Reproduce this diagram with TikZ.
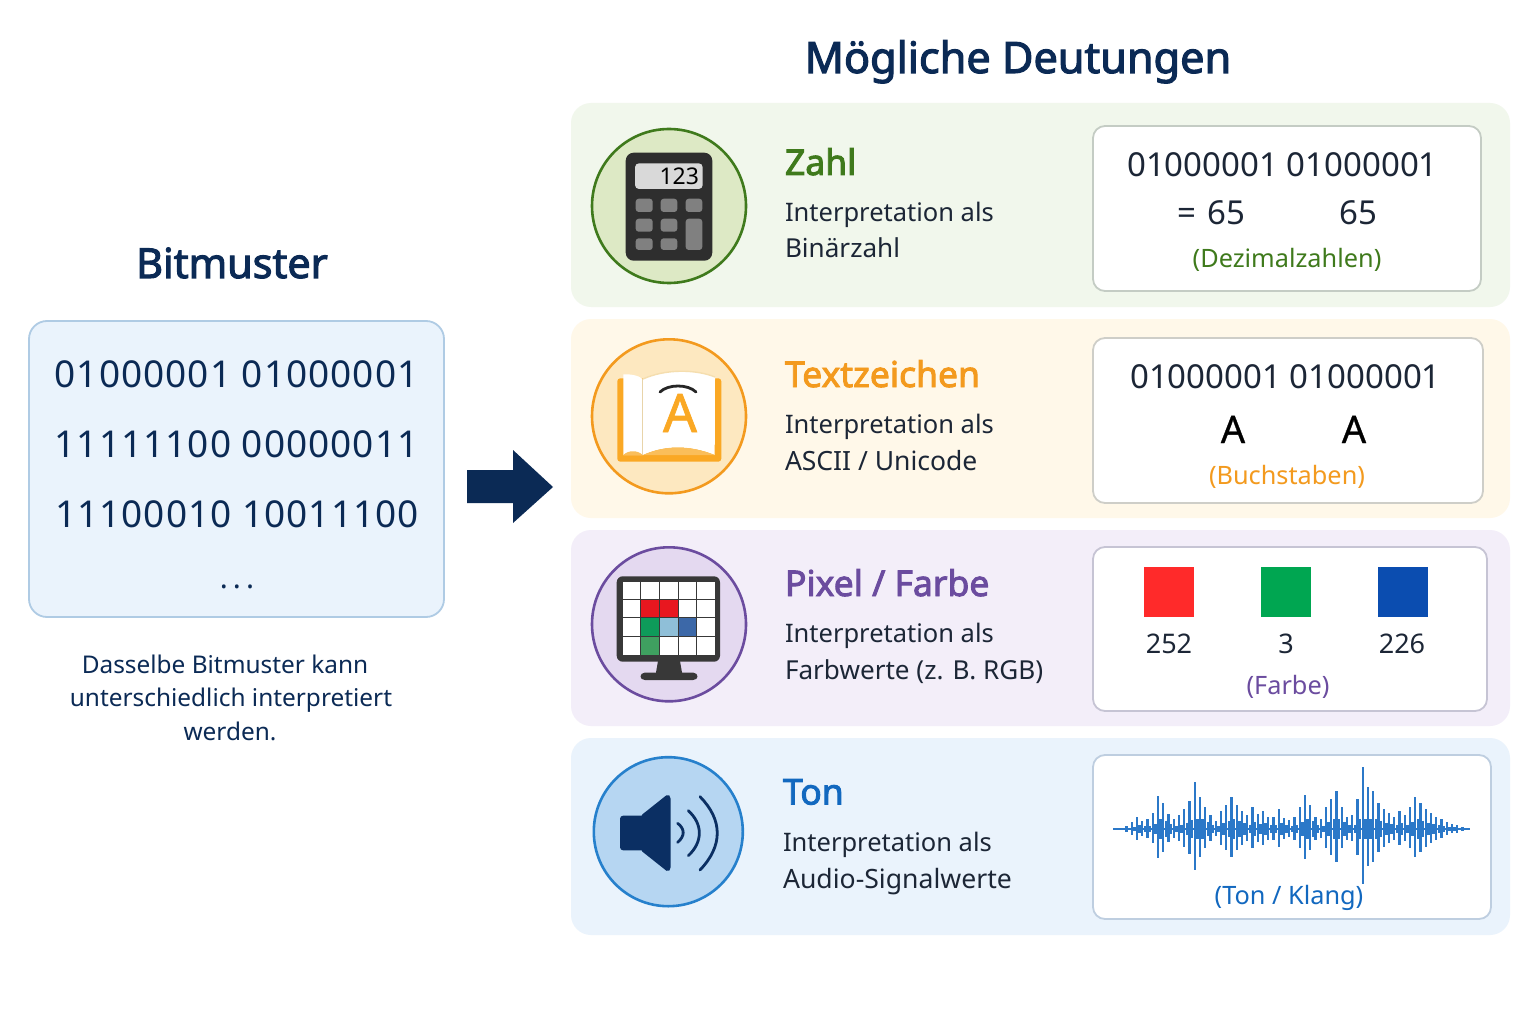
\documentclass[tikz,border=0pt]{standalone}
\usepackage{fontspec}
\setmainfont{Noto Sans}[AutoFakeBold=2.6]
\newfontfamily\bitfont{Noto Sans}[LetterSpace=2.8]
\definecolor{navy}{HTML}{0B2A55}
\definecolor{ink}{HTML}{1C2636}
\definecolor{gt}{HTML}{3F7A1C}
\definecolor{ot}{HTML}{F39A1E}
\definecolor{pt}{HTML}{6B4C9F}
\definecolor{bt}{HTML}{1268BF}
\definecolor{leftfill}{RGB}{234,243,252}
\definecolor{leftline}{RGB}{175,203,228}
\definecolor{card1}{RGB}{241,247,236}
\definecolor{card2}{RGB}{255,248,233}
\definecolor{card3}{RGB}{243,238,249}
\definecolor{card4}{RGB}{234,243,252}
\definecolor{line1}{RGB}{196,204,196}
\definecolor{line2}{RGB}{206,206,200}
\definecolor{line3}{RGB}{198,196,212}
\definecolor{line4}{RGB}{190,206,224}
\definecolor{circ1}{RGB}{221,233,197}
\definecolor{circ2}{RGB}{253,232,192}
\definecolor{circ3}{RGB}{228,217,240}
\definecolor{circ4}{RGB}{182,214,242}
\definecolor{ring4}{RGB}{38,128,204}
\definecolor{spk}{RGB}{11,47,99}
\definecolor{pagea}{RGB}{232,212,170}
\definecolor{pageb}{RGB}{245,222,175}
\definecolor{bookc}{RGB}{250,168,36}
\definecolor{bookl}{RGB}{250,190,90}
\definecolor{pxr}{RGB}{232,23,31}
\definecolor{pxg}{RGB}{14,155,90}
\definecolor{pxl}{RGB}{143,191,216}
\definecolor{pxb}{RGB}{60,104,168}
\definecolor{pxh}{RGB}{63,160,96}
\definecolor{sqr}{RGB}{255,42,42}
\definecolor{sqg}{RGB}{0,166,81}
\definecolor{sqb}{RGB}{11,77,176}
\definecolor{wave}{HTML}{2B78C8}
\newcommand{\fsz}[1]{\fontsize{#1}{#1}\selectfont}
\tikzset{
  x=1pt,y=-1pt,
  every node/.style={inner sep=0pt,outer sep=0pt},
  headtxt/.style={font=\fsz{42}\bfseries,text=navy,anchor=base},
  cardbox/.style={rounded corners=20,draw=none},
  valbox/.style={rounded corners=12,fill=white,draw=#1,line width=1.8},
  iconring/.style={line width=2.6},
  titletxt/.style={font=\fsz{35.5}\bfseries,anchor=base west},
  bodytxt/.style={font=\fsz{25.5},text=ink,anchor=base west},
  bitstxt/.style={font=\fsz{33},text=ink,anchor=base},
  bitsleft/.style={font=\bitfont\fsz{37},text=navy,anchor=base},
  captxt/.style={font=\fsz{25.3},anchor=base},
  notetxt/.style={font=\fsz{24.4},text=navy,anchor=base},
}
\begin{document}
\begin{tikzpicture}
\useasboundingbox (0,0) rectangle (1536,1024);
\fill[white] (0,0) rectangle (1536,1024);
% left
\node[headtxt,font=\fsz{41.3}\bfseries] (hl) at (232,278) {Bitmuster};
\node[headtxt,font=\fsz{43.2}\bfseries] (hr) at (1018,73) {Mögliche Deutungen};
\draw[rounded corners=18,fill=leftfill,draw=leftline,line width=1.8] (29,321) rectangle (444,617);
\node[bitsleft] (l1) at (236.5,387) {01000001 01000001};
\node[bitsleft] (l2) at (236.5,457) {11111100 00000011};
\node[bitsleft] (l3) at (237,527) {11100010 10011100};
\node[bitsleft,font=\fsz{30}] (l4) at (237,588) {.\hspace{5pt}.\hspace{5pt}.};
\node[notetxt] (n1) at (225,673) {Dasselbe Bitmuster kann};
\node[notetxt] (n2) at (231,706) {unterschiedlich interpretiert};
\node[notetxt] (n3) at (230,740) {werden.};
% arrow
\fill[navy] (467,470) -- (513,470) -- (513,450) -- (553,487) -- (513,523) -- (513,503) -- (467,503) -- cycle;
% cards
\fill[cardbox,fill=card1] (571,103) rectangle (1510,307);
\fill[cardbox,fill=card2] (571,319) rectangle (1510,518);
\fill[cardbox,fill=card3] (571,530) rectangle (1510,726);
\fill[cardbox,fill=card4] (571,738) rectangle (1510,935);
% value boxes
\draw[valbox=line1] (1093,126) rectangle (1481,291);
\draw[valbox=line2] (1093,338) rectangle (1483,503);
\draw[valbox=line3] (1093,547) rectangle (1487,711);
\draw[valbox=line4] (1093,755) rectangle (1491,919);
% Zahl
\filldraw[iconring,draw=gt,fill=circ1] (669,206) circle (77);
\fill[black!82,rounded corners=8] (625.7,152.7) rectangle (712.3,260.7);
\fill[black!15,rounded corners=4] (635,163.3) rectangle (702.7,189);
\node[font=\fsz{23},text=black,anchor=base east] (calc) at (699,185) {123};
\foreach \a/\b/\c/\d in {635.7/198.7/652.7/212,660.7/198.7/677.3/212,685.7/198.7/702.3/212,635.7/218.7/652.7/231.7,660.7/218.7/677.3/231.7,635.7/238.3/652.7/250,660.7/238.3/677.3/250,685.7/218.7/702.3/250}
  \fill[black!50,rounded corners=3] (\a,\b) rectangle (\c,\d);
\node[titletxt,text=gt] (t1) at (785,175) {Zahl};
\node[bodytxt] (b1a) at (785,222) {Interpretation als};
\node[bodytxt,font=\fsz{26.1}] (b1b) at (785,258) {Binärzahl};
\node[bitstxt] (v1) at (1282.5,177) {01000001 01000001};
\node[bitstxt] (v1e) at (1187,225) {=};
\node[bitstxt] (v1a) at (1226,225) {65};
\node[bitstxt] (v1b) at (1358,225) {65};
\node[captxt,text=gt] (c1) at (1287,268) {(Dezimalzahlen)};
% Text
\filldraw[iconring,draw=ot,fill=circ2] (669,416.3) circle (77);
\fill[bookc,rounded corners=3] (617.3,378.3) rectangle (721.3,461.7);
\fill[white] (623.3,374.3) .. controls (630,374) and (638,375) .. (642.7,379) -- (642.7,455) -- (623.3,455) -- cycle;
\fill[white] (643,379) .. controls (665,369) and (695,369) .. (715,377) -- (714.7,455) .. controls (690,445) and (665,445) .. (643,455) -- cycle;
\fill[bookl] (643,455) .. controls (665,445) and (690,445) .. (714.7,455) -- cycle;
\fill[bookl] (623.3,455) .. controls (628,450) and (638,450) .. (642.7,455) -- cycle;
\draw[line width=1.4,draw=pagea] (642.7,379) -- (642.7,455);
\draw[line width=1.4,draw=pageb] (643,379) .. controls (665,369) and (695,369) .. (715,377);
\node[font=\fsz{53}\addfontfeature{FakeBold=1.4},text=bookc,anchor=base] (la) at (680,432) {A};
\draw[line width=2.8,line cap=round,black!85] (660,392) .. controls (668,384) and (688,384) .. (696,392);
\node[titletxt,text=ot] (t2) at (785,387) {Textzeichen};
\node[bodytxt] (b2a) at (785,433) {Interpretation als};
\node[bodytxt,font=\fsz{26.5}] (b2b) at (785,470) {ASCII / Unicode};
\node[bitstxt] (v2) at (1285.5,388.5) {01000001 01000001};
\node[font=\fsz{38}\addfontfeature{FakeBold=0.8},text=black,anchor=base] (v2a) at (1233,443) {A};
\node[font=\fsz{38}\addfontfeature{FakeBold=0.8},text=black,anchor=base] (v2b) at (1354,443) {A};
\node[captxt,text=ot] (c2) at (1287,484) {(Buchstaben)};
% Pixel
\filldraw[iconring,draw=pt,fill=circ3] (669,624.3) circle (77);
\fill[black!78] (658,661) -- (680,661) -- (682,672.5) -- (693,672.5) .. controls (699,673) and (699,680) .. (693,680) -- (645,680) .. controls (639,680) and (639,673) .. (645,672.5) -- (656,672.5) -- cycle;
\fill[black!78,rounded corners=6] (616.7,576.3) rectangle (720,661.7);
\foreach \xa/\xb in {623.3/640.2,641.2/658.8,659.8/677.5,678.5/696.2,697.2/715}
  \foreach \ya/\yb in {581.7/598.5,599.5/617.2,618.2/635.8,636.8/655}
    \fill[white] (\xa,\ya) rectangle (\xb,\yb);
\fill[pxr] (641.2,599.5) rectangle (658.8,617.2);
\fill[pxr] (659.8,599.5) rectangle (677.5,617.2);
\fill[pxg] (641.2,618.2) rectangle (658.8,635.8);
\fill[pxl] (659.8,618.2) rectangle (677.5,635.8);
\fill[pxb] (678.5,618.2) rectangle (696.2,635.8);
\fill[pxh] (641.2,636.8) rectangle (658.8,655);
\node[titletxt,text=pt] (t3) at (785,596) {Pixel / Farbe};
\node[bodytxt] (b3a) at (785,642.5) {Interpretation als};
\node[bodytxt,font=\fsz{26.1}] (b3b) at (785,679.5) {Farbwerte (z. B. RGB)};
\fill[sqr] (1144,567) rectangle (1194,617);
\fill[sqg] (1261,567) rectangle (1311,617);
\fill[sqb] (1378,567) rectangle (1428,617);
\node[font=\fsz{27},text=ink,anchor=base] (p1) at (1169,653) {252};
\node[font=\fsz{27},text=ink,anchor=base] (p2) at (1286,653) {3};
\node[font=\fsz{27},text=ink,anchor=base] (p3) at (1402,653) {226};
\node[captxt,text=pt] (c3) at (1288,694) {(Farbe)};
% Ton
\filldraw[iconring,draw=ring4,fill=circ4] (668.3,831.7) circle (74.5);
\fill[spk,rounded corners=3] (620,815.7) rectangle (645,850.3);
\fill[spk,rounded corners=2] (640.7,815.7) -- (668,794) -- (670.7,797) -- (670.7,869) -- (668,872) -- (640.7,850.3) -- cycle;
\begin{scope}[line width=2.8,line cap=round,draw=spk]
\draw (677.7,823.3) .. controls (685,829) and (685,836) .. (677.7,842.3);
\draw (688.3,810.7) .. controls (703,824) and (703,842) .. (688.3,855.7);
\draw (700,796.7) .. controls (723,820) and (723,846) .. (700,870);
\end{scope}
\node[titletxt,text=bt] (t4) at (783,804.5) {Ton};
\node[bodytxt] (b4a) at (783,851.5) {Interpretation als};
\node[bodytxt,font=\fsz{26.6}] (b4b) at (783,888) {Audio-Signalwerte};
% waveform
\draw[wave,line width=2] (1113,829) -- (1470,829);
\foreach \h [count=\i from 0] in {3,7,12,8,10,16,33,26,15,10,14,20,28,47,32,22,14,8,18,24,32,24,18,14,22,15,18,12,12,20,11,9,12,22,34,24,12,10,22,30,38,22,12,14,30,62,42,38,26,20,16,12,18,14,22,32,26,20,16,12,10,7,5,4,2}{
  \pgfmathsetmacro{\xx}{1126.5+\i*5.25}
  \pgfmathsetmacro{\xb}{\xx+2.6}
  \pgfmathsetmacro{\yu}{829-\h}
  \pgfmathsetmacro{\yd}{829+0.88*\h}
  \pgfmathsetmacro{\hh}{min(\h*0.32,10)}
  \pgfmathsetmacro{\yuu}{829-\hh}
  \pgfmathsetmacro{\ydd}{829+\hh}
  \draw[wave,line width=2.3] (\xx,\yu) -- (\xx,\yd);
  \draw[wave,line width=2.3] (\xb,\yuu) -- (\xb,\ydd);
}
\node[captxt,text=bt] (c4) at (1289,904) {(Ton / Klang)};
\end{tikzpicture}
\end{document}
